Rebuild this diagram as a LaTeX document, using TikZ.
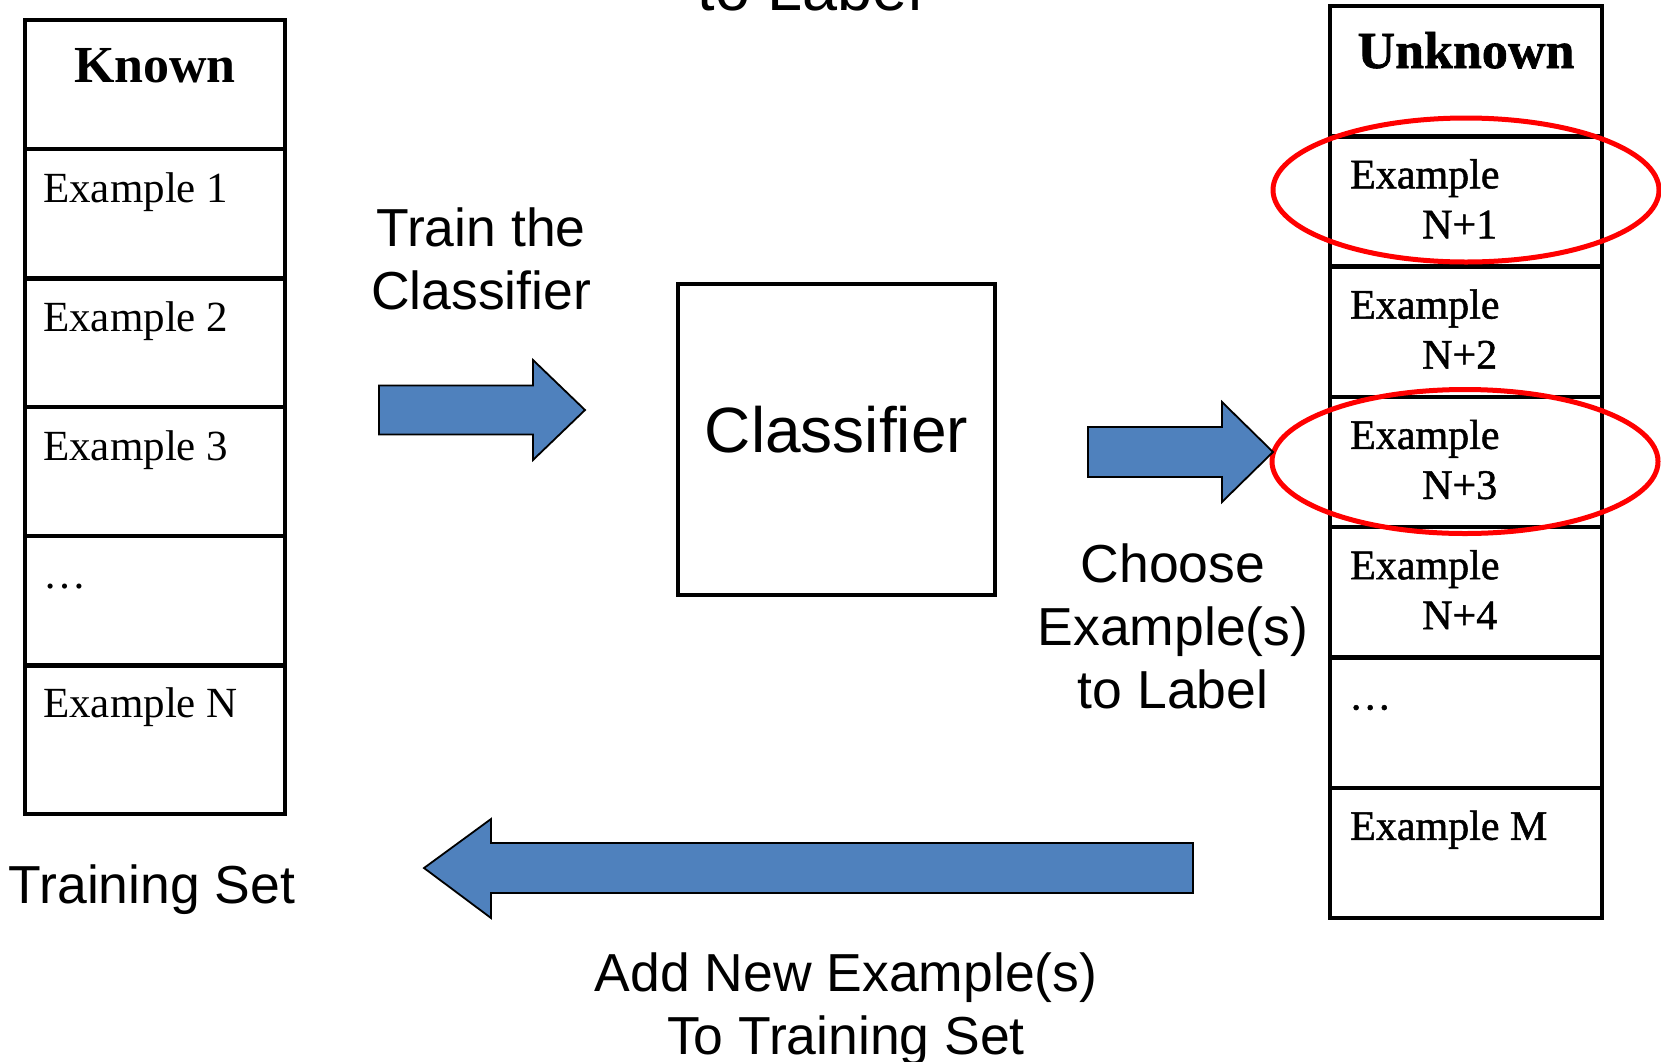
\documentclass[tikz,border=0pt]{standalone}
\usepackage{fontspec}
\setmainfont{Liberation Serif}
\setsansfont{Liberation Sans}
\newfontfamily\shfont{Liberation Serif}[FakeBold=1.2]
\usetikzlibrary{calc,shapes.geometric}
\definecolor{arrowblue}{HTML}{4F81BD}
\definecolor{ringred}{HTML}{FF0000}
\begin{document}
\begin{tikzpicture}[x=1pt,y=-1pt,
  cell/.style={draw,line width=4.5pt,anchor=north west,inner sep=0pt,outer sep=0pt},
  lcell/.style={cell,minimum width=260pt},
  rcell/.style={cell,minimum width=272pt,minimum height=130.3pt},
  ltext/.style={anchor=base west,inner sep=0pt,font=\fontsize{43}{50}\selectfont},
  rtext/.style={anchor=base west,inner sep=0pt,align=left,font=\fontsize{42}{50}\shfont},
  head/.style={anchor=base,inner sep=0pt,font=\fontsize{52}{60}\shfont\bfseries},
  lab/.style={anchor=base,inner sep=0pt,align=center,font=\fontsize{53.5}{63}\sffamily},
  blockarrow/.style={fill=arrowblue,draw=black,line width=1.8pt,line join=miter},
  ring/.style={draw=ringred,line width=5pt,ellipse,minimum width=386pt,minimum height=144pt,inner sep=0pt}
]
\useasboundingbox (0,0) rectangle (1661,1061);
\clip (0,0) rectangle (1661,1061);
\fill[white] (0,0) rectangle (1661,1061);

% Known column
\node[lcell,minimum height=129pt]   (k0) at (25,20) {};
\node[lcell,minimum height=129.5pt] (k1) at (k0.south west) {};
\node[lcell,minimum height=128.5pt] (k2) at (k1.south west) {};
\node[lcell,minimum height=129pt]   (k3) at (k2.south west) {};
\node[lcell,minimum height=129.5pt] (k4) at (k3.south west) {};
\node[lcell,minimum height=148.5pt] (k5) at (k4.south west) {};
\node[head,font=\fontsize{52}{60}\selectfont\bfseries] (known) at ($(k0.north)+(0,62)$) {Known};
\node[ltext] (e1) at ($(k1.north west)+(18,53)$) {Example 1};
\node[ltext] (e2) at ($(k2.north west)+(18,53)$) {Example 2};
\node[ltext] (e3) at ($(k3.north west)+(18,53)$) {Example 3};
\node[ltext] (ed) at ($(k4.north west)+(18,52)$) {…};
\node[ltext] (eN) at ($(k5.north west)+(18,52)$) {Example N};
\node[lab] (tset) at (152,903) {Training Set};

% Unknown column
\node[rcell] (u0) at (1330,6) {};
\node[rcell] (u1) at (u0.south west) {};
\node[rcell] (u2) at (u1.south west) {};
\node[rcell] (u3) at (u2.south west) {};
\node[rcell] (u4) at (u3.south west) {};
\node[rcell] (u5) at (u4.south west) {};
\node[rcell] (u6) at (u5.south west) {};
\node[head] (unknown) at ($(u0.north)+(0,62)$) {Unknown};
\node[rtext] (n1) at ($(u1.north west)+(20,102)$) {Example\\\hspace*{72pt}N+1};
\node[rtext] (n2) at ($(u2.north west)+(20,102)$) {Example\\\hspace*{72pt}N+2};
\node[rtext] (n3) at ($(u3.north west)+(20,102)$) {Example\\\hspace*{72pt}N+3};
\node[rtext] (n4) at ($(u4.north west)+(20,102)$) {Example\\\hspace*{72pt}N+4};
\node[rtext] (nd) at ($(u5.north west)+(19,52)$) {…};
\node[rtext] (nM) at ($(u6.north west)+(20,52)$) {Example M};

% rings
\node[ring] (r1) at (1466,190) {};
\node[ring] (r2) at (1465,461.5) {};

% Classifier
\node[draw,line width=4.5pt,minimum width=317pt,minimum height=311pt,inner sep=0pt,text depth=20pt,font=\fontsize{64}{76}\sffamily] (clf) at (836.5,439.5) {Classifier};

% labels (anchor = baseline of last line)
\node[lab] (train) at (481,309) {Train the\\Classifier};
\node[lab] (choose) at (1173,708) {Choose\\Example(s)\\to Label};
\node[lab] (addnew) at (846,1054) {Add New Example(s)\\To Training Set};
\node[lab,font=\fontsize{63}{72}\sffamily] (toplabel) at (810,10) {to Label};

% block arrows
\draw[blockarrow] (379,385.5) -- (533,385.5) -- (533,360) -- (585,410) -- (533,460) -- (533,434.5) -- (379,434.5) -- cycle;
\draw[blockarrow] (1088,427) -- (1222,427) -- (1222,402) -- (1273,452) -- (1222,502) -- (1222,477) -- (1088,477) -- cycle;
\draw[blockarrow] (1193,843) -- (491,843) -- (491,819) -- (424,868) -- (491,918) -- (491,893) -- (1193,893) -- cycle;
\end{tikzpicture}
\end{document}
